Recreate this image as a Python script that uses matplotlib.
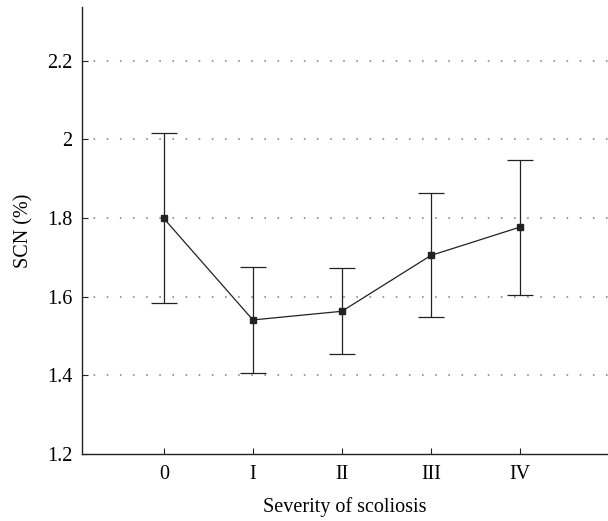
import numpy as np
import matplotlib.pyplot as plt

plt.rcParams['font.family'] = ['Liberation Serif', 'DejaVu Serif']

# data
grades = ['0', 'I', 'II', 'III', 'IV']
scn_mean = [1.799, 1.541, 1.563, 1.705, 1.777]
scn_upper = [2.017, 1.676, 1.673, 1.864, 1.948]
scn_lower = [1.583, 1.406, 1.454, 1.549, 1.605]
yticks = [1.2, 1.4, 1.6, 1.8, 2.0, 2.2]
ytick_labels = ['1.2', '1.4', '1.6', '1.8', '2', '2.2']

x = np.arange(len(grades))
mean = np.array(scn_mean)
err = [mean - np.array(scn_lower), np.array(scn_upper) - mean]

fig = plt.figure(figsize=(6.08, 5.21), dpi=100)
ax = fig.add_axes([0.1349, 0.1286, 0.8651, 0.858])

for y in yticks[1:]:
    ax.axhline(y, color='#777777', linestyle=(1, (1, 7.6)), linewidth=1.1, zorder=0)

ax.errorbar(x, mean, yerr=err, color='#222222', linewidth=0.9, elinewidth=0.9,
            capsize=9.5, capthick=0.9, marker='s', markersize=5,
            markerfacecolor='#222222', markeredgecolor='#222222')

ax.set_xlim(-0.92, 4.99)
ax.set_ylim(1.2, 2.337)
ax.set_xticks(x)
ax.set_xticklabels(grades)
ax.set_yticks(yticks)
ax.set_yticklabels(ytick_labels)
ax.tick_params(direction='in', length=4, width=0.8, labelsize=14.5, color='#222222')
ax.tick_params(axis='x', pad=8)
ax.tick_params(axis='y', pad=7)

for side in ['top', 'right']:
    ax.spines[side].set_visible(False)
for side in ['left', 'bottom']:
    ax.spines[side].set_linewidth(1.0)
    ax.spines[side].set_color('#222222')

ax.set_xlabel('Severity of scoliosis', fontsize=14.5, labelpad=9)
ax.set_ylabel('SCN (%)', fontsize=14.5, labelpad=10)

fig.savefig('out.png', dpi=100)
